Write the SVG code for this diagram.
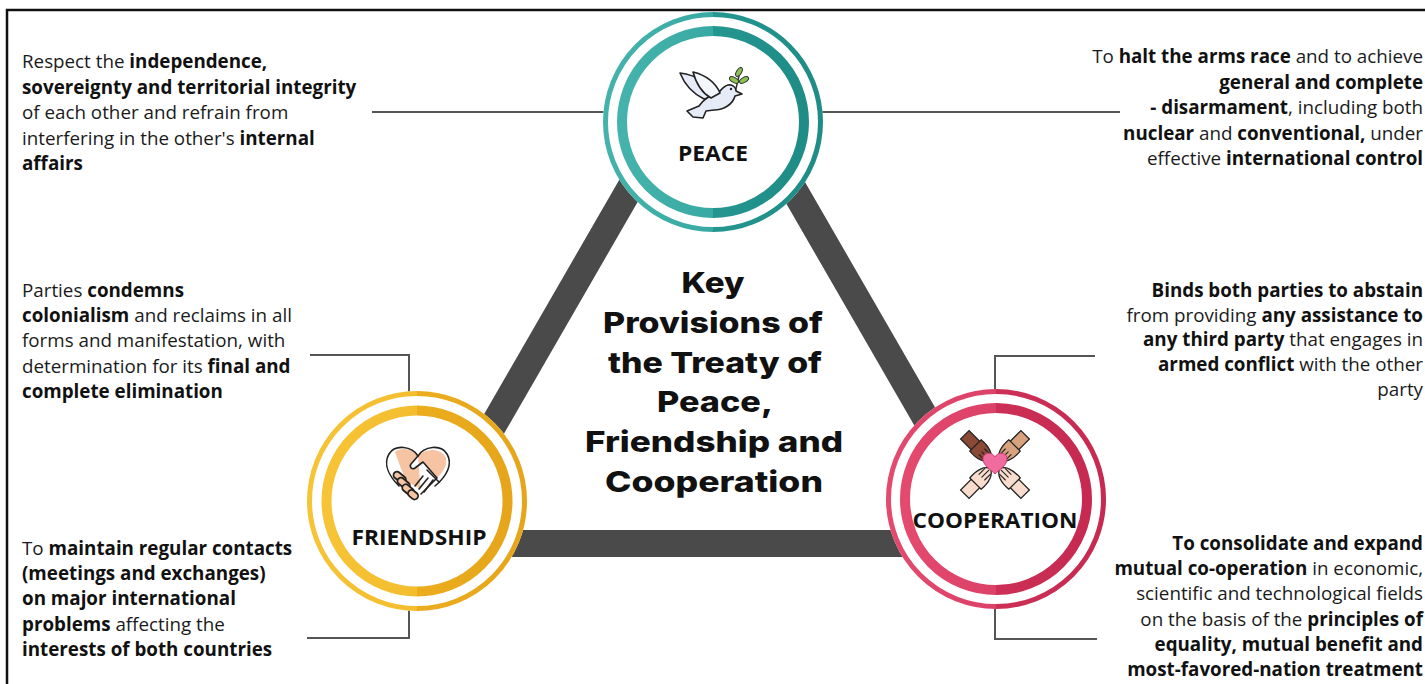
<svg xmlns="http://www.w3.org/2000/svg" width="1425" height="684" viewBox="0 0 1425 684">
<defs>
<style>
.t{font-family:"Open Sans","Liberation Sans",sans-serif;font-size:18.8px;fill:#1a1a1a}
.b{font-weight:700;fill:#111}
.r{text-anchor:end}
.lbl{font-family:"Open Sans","Liberation Sans",sans-serif;font-weight:700;fill:#111;text-anchor:middle}
.title{font-family:Inter,"Liberation Sans",sans-serif;font-weight:800;font-size:29px;fill:#111;text-anchor:middle}
.con{fill:none;stroke:#555;stroke-width:2}
.ico{stroke:#222;stroke-width:1.6;stroke-linejoin:round;stroke-linecap:round}
.fl{fill:none;stroke:#222;stroke-width:1.1;stroke-linecap:round}
</style>
<linearGradient id="gT" x1="0" x2="1" y1="0" y2="0"><stop offset="0" stop-color="#45b3ac"/><stop offset="0.5" stop-color="#38aaa3"/><stop offset="0.5" stop-color="#249690"/><stop offset="1" stop-color="#1f8c86"/></linearGradient>
<linearGradient id="gY" x1="0" x2="1" y1="0" y2="0"><stop offset="0" stop-color="#f6c436"/><stop offset="0.5" stop-color="#f3bd2e"/><stop offset="0.5" stop-color="#ebad1e"/><stop offset="1" stop-color="#e6a51a"/></linearGradient>
<linearGradient id="gR" x1="0" x2="1" y1="0" y2="0"><stop offset="0" stop-color="#e34a6e"/><stop offset="0.5" stop-color="#dc4167"/><stop offset="0.5" stop-color="#cd3056"/><stop offset="1" stop-color="#c62a50"/></linearGradient>
</defs>
<rect width="1425" height="684" fill="#fff"/>
<rect x="7" y="10" width="1440" height="700" fill="none" stroke="#111" stroke-width="2.5"/>

<g id="triangle">
<polygon points="711.5,47 998,543.5 425,543.5" fill="none" stroke="#4a4a4a" stroke-width="27" stroke-linejoin="miter"/>
</g>

<g id="connectors">
<line class="con" x1="372" y1="112" x2="605" y2="112"/>
<line class="con" x1="821" y1="112" x2="1120" y2="112"/>
<polyline class="con" points="310,355 409,355 409,396"/>
<polyline class="con" points="409,606 409,638 307,638"/>
<polyline class="con" points="1095,356 995,356 995,392"/>
<polyline class="con" points="995,606 995,639 1097,639"/>
</g>

<g id="title">
<text class="title" x="713" y="293" textLength="63" lengthAdjust="spacingAndGlyphs">Key</text>
<text class="title" x="713" y="333" textLength="220" lengthAdjust="spacingAndGlyphs">Provisions of</text>
<text class="title" x="715" y="373" textLength="214" lengthAdjust="spacingAndGlyphs">the Treaty of</text>
<text class="title" x="715" y="412" textLength="116" lengthAdjust="spacingAndGlyphs">Peace,</text>
<text class="title" x="714" y="452" textLength="258" lengthAdjust="spacingAndGlyphs">Friendship and</text>
<text class="title" x="714" y="492" textLength="218" lengthAdjust="spacingAndGlyphs">Cooperation</text>
</g>

<g id="peace">
<circle cx="713" cy="122" r="110" fill="#fff"/>
<circle cx="713" cy="122" r="107.5" fill="none" stroke="url(#gT)" stroke-width="5"/>
<circle cx="713" cy="122" r="91" fill="none" stroke="url(#gT)" stroke-width="10"/>
<g transform="translate(678,63)">
<path d="M57 30 L63 4" fill="none" stroke="#333" stroke-width="1.5"/>
<ellipse cx="61" cy="9" rx="2.5" ry="5" fill="#8cc152" stroke="#333" stroke-width="1" transform="rotate(30 61 9)"/>
<ellipse cx="56" cy="17" rx="2.5" ry="5" fill="#8cc152" stroke="#333" stroke-width="1" transform="rotate(-60 56 17)"/>
<ellipse cx="66" cy="17" rx="2.5" ry="5" fill="#8cc152" stroke="#333" stroke-width="1" transform="rotate(60 66 17)"/>
<path class="ico" fill="#e6ecf7" d="M38 33 C32 20 18 12 2 10 C6 20 14 30 26 36 Z"/>
<path class="ico" fill="#e6ecf7" d="M50 22 C55 21 58 25 58 28 L64 31 L57 33 C55 41 46 47 36 47 L28 48 L25 55 L15 54 L9 48 L21 43 C26 36 32 32 40 30 C44 26 46 23 50 22 Z"/>
<path class="ico" fill="#f3f6fb" d="M42 30 C38 20 28 12 15 9 C18 20 24 30 33 35 Z"/>
<circle cx="53" cy="26" r="1.2" fill="#222"/>
</g>
<text class="lbl" x="713" y="161" font-size="21" textLength="70" lengthAdjust="spacingAndGlyphs">PEACE</text>
</g>

<g id="friendship">
<circle cx="417" cy="501" r="110" fill="#fff"/>
<circle cx="417" cy="501" r="107.5" fill="none" stroke="url(#gY)" stroke-width="5"/>
<circle cx="417" cy="501" r="90.5" fill="none" stroke="url(#gY)" stroke-width="10"/>
<g transform="translate(383,442)">
<path d="M12 10 C20 4 30 8 35 14 C42 6 56 6 62 14 C66 22 60 30 54 36 L40 48 L24 40 C20 32 16 22 12 10 Z" fill="#f6c4a2"/>
<path class="ico" fill="none" stroke-width="2.2" d="M35 14 C29 4 12 2 6 12 C0 22 6 34 16 44 M52 44 C64 34 70 22 64 12 C58 2 41 4 35 14"/>
<path class="ico" fill="#fff" stroke-width="2" d="M35 14 L28 22 C26 25 29 28 32 26 L40 20 L54 36 L38 52"/>
<g fill="#f6c4a2" stroke="#222" stroke-width="1.8">
<rect x="10" y="32" width="14" height="7" rx="3.5" transform="rotate(40 17 35)"/>
<rect x="14" y="38" width="14" height="7" rx="3.5" transform="rotate(40 21 41)"/>
<rect x="19" y="44" width="13" height="7" rx="3.5" transform="rotate(40 25 47)"/>
<rect x="25" y="49" width="11" height="7" rx="3.5" transform="rotate(40 30 52)"/>
</g>
<path class="ico" fill="none" stroke-width="1.8" d="M40 34 L32 44 M45 36 L36 47 M50 38 L41 50 M44 28 L56 40"/>
</g>
<text class="lbl" x="419" y="545" font-size="21" textLength="135" lengthAdjust="spacingAndGlyphs">FRIENDSHIP</text>
</g>

<g id="cooperation">
<circle cx="996" cy="499" r="110" fill="#fff"/>
<circle cx="996" cy="499" r="107.5" fill="none" stroke="url(#gR)" stroke-width="5"/>
<circle cx="996" cy="499" r="91" fill="none" stroke="url(#gR)" stroke-width="10"/>
<g transform="translate(963,433)">
<g transform="translate(16,16) rotate(-45)">
<rect x="-6" y="-20" width="12" height="16" fill="#8a4a36" stroke="#222" stroke-width="1.3"/>
<path d="M-8 -5 C-9 6 -6 14 0 16 C6 14 9 6 8 -5 Z" fill="#8a4a36" stroke="#222" stroke-width="1.3"/>
<path class="fl" d="M-4 4 L-4 12 M0 4 L0 14 M4 4 L4 12"/>
</g>
<g transform="translate(48,16) rotate(45)">
<rect x="-6" y="-20" width="12" height="16" fill="#d9a27e" stroke="#222" stroke-width="1.3"/>
<path d="M-8 -5 C-9 6 -6 14 0 16 C6 14 9 6 8 -5 Z" fill="#d9a27e" stroke="#222" stroke-width="1.3"/>
<path class="fl" d="M-4 4 L-4 12 M0 4 L0 14 M4 4 L4 12"/>
</g>
<g transform="translate(16,47) rotate(-135)">
<rect x="-6" y="-20" width="12" height="16" fill="#f8dccd" stroke="#222" stroke-width="1.3"/>
<path d="M-8 -5 C-9 6 -6 14 0 16 C6 14 9 6 8 -5 Z" fill="#f8dccd" stroke="#222" stroke-width="1.3"/>
<path class="fl" d="M-4 4 L-4 12 M0 4 L0 14 M4 4 L4 12"/>
</g>
<g transform="translate(48,47) rotate(135)">
<rect x="-6" y="-20" width="12" height="16" fill="#f8dccd" stroke="#222" stroke-width="1.3"/>
<path d="M-8 -5 C-9 6 -6 14 0 16 C6 14 9 6 8 -5 Z" fill="#f8dccd" stroke="#222" stroke-width="1.3"/>
<path class="fl" d="M-4 4 L-4 12 M0 4 L0 14 M4 4 L4 12"/>
</g>
<path d="M32 24 C29 18 19 19 20 27 C21 33 28 37 32 41 C36 37 43 33 44 27 C45 19 35 18 32 24 Z" fill="#f06b9e" stroke="#c4406e" stroke-width="1"/>
</g>
<text class="lbl" x="995" y="528" font-size="22" textLength="165" lengthAdjust="spacingAndGlyphs">COOPERATION</text>
</g>

<g id="text-peace-left">
<text class="t" x="22" y="68">Respect the <tspan class="b">independence,</tspan></text>
<text class="t b" x="22" y="93.5">sovereignty and territorial integrity</text>
<text class="t" x="22" y="119">of each other and refrain from</text>
<text class="t" x="22" y="144.5">interfering in the other's <tspan class="b">internal</tspan></text>
<text class="t b" x="22" y="170">affairs</text>
</g>

<g id="text-friendship-top">
<text class="t" x="22" y="297">Parties <tspan class="b">condemns</tspan></text>
<text class="t" x="22" y="322"><tspan class="b">colonialism</tspan> and reclaims in all</text>
<text class="t" x="22" y="347">forms and manifestation, with</text>
<text class="t" x="22" y="372.5">determination for its <tspan class="b">final and</tspan></text>
<text class="t b" x="22" y="398">complete elimination</text>
</g>

<g id="text-friendship-bottom">
<text class="t" x="22" y="555">To <tspan class="b">maintain regular contacts</tspan></text>
<text class="t b" x="22" y="580">(meetings and exchanges)</text>
<text class="t b" x="22" y="605">on major international</text>
<text class="t" x="22" y="630.5"><tspan class="b">problems</tspan> affecting the</text>
<text class="t b" x="22" y="656">interests of both countries</text>
</g>

<g id="text-peace-right">
<text class="t r" x="1423" y="63">To <tspan class="b">halt the arms race</tspan> and to achieve</text>
<text class="t r b" x="1423" y="88.5">general and complete</text>
<text class="t r" x="1423" y="114"><tspan class="b">- disarmament</tspan>, including both</text>
<text class="t r" x="1423" y="139.5"><tspan class="b">nuclear</tspan> and <tspan class="b">conventional,</tspan> under</text>
<text class="t r" x="1423" y="165">effective <tspan class="b">international control</tspan></text>
</g>

<g id="text-cooperation-top">
<text class="t r b" x="1423" y="297">Binds both parties to abstain</text>
<text class="t r" x="1423" y="322">from providing <tspan class="b">any assistance to</tspan></text>
<text class="t r" x="1423" y="346"><tspan class="b">any third party</tspan> that engages in</text>
<text class="t r" x="1423" y="371"><tspan class="b">armed conflict</tspan> with the other</text>
<text class="t r" x="1423" y="396">party</text>
</g>

<g id="text-cooperation-bottom">
<text class="t r b" x="1423" y="550">To consolidate and expand</text>
<text class="t r" x="1423" y="575"><tspan class="b">mutual co-operation</tspan> in economic,</text>
<text class="t r" x="1423" y="600">scientific and technological fields</text>
<text class="t r" x="1423" y="625.5">on the basis of the <tspan class="b">principles of</tspan></text>
<text class="t r b" x="1423" y="651">equality, mutual benefit and</text>
<text class="t r b" x="1423" y="676">most-favored-nation treatment</text>
</g>
</svg>
